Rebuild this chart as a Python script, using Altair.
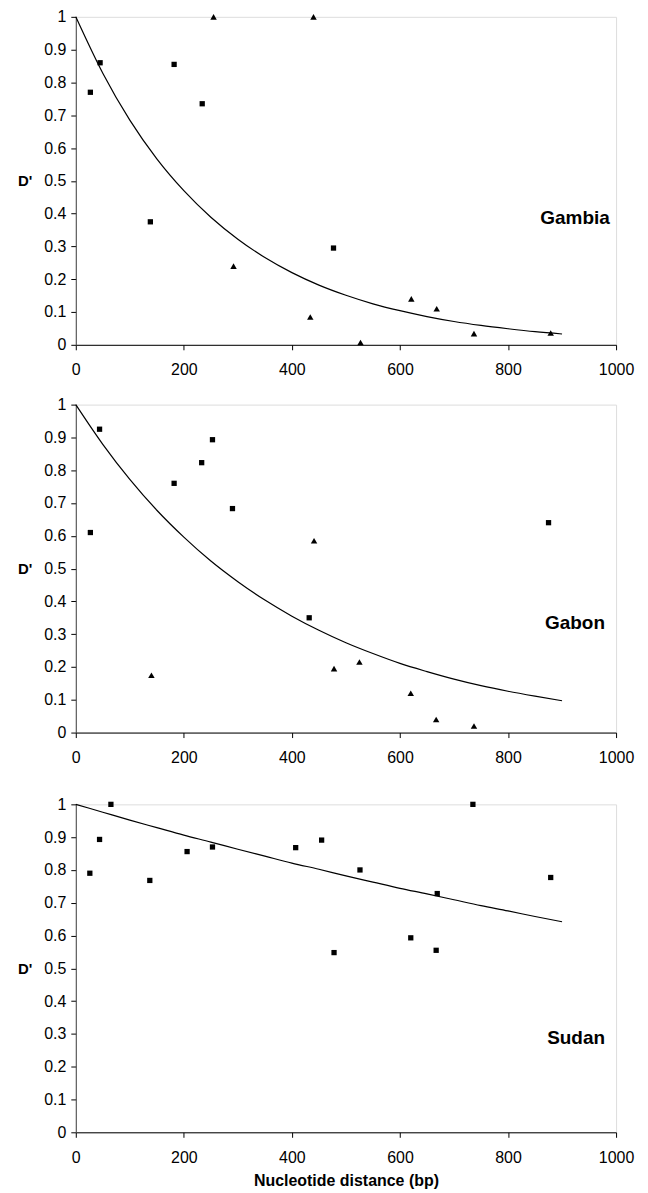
import altair as alt
import pandas as pd

FONT = "Liberation Sans"

# ---- data ----
gambia_sq_x = [27, 45, 138, 182, 234, 477]
gambia_sq_y = [0.77, 0.86, 0.375, 0.855, 0.735, 0.295]
gambia_tri_x = [255, 440, 292, 434, 527, 621, 668, 737, 879]
gambia_tri_y = [1.0, 1.0, 0.24, 0.085, 0.007, 0.14, 0.11, 0.034, 0.036]

gabon_sq_x = [27, 44, 182, 233, 253, 290, 432, 875]
gabon_sq_y = [0.61, 0.925, 0.76, 0.823, 0.893, 0.683, 0.35, 0.64]
gabon_tri_x = [140, 441, 478, 525, 620, 667, 737]
gabon_tri_y = [0.175, 0.585, 0.195, 0.215, 0.12, 0.04, 0.02]

sudan_sq_x = [26, 44, 65, 137, 206, 253, 407, 455, 478, 526, 620, 669, 667, 735, 879]
sudan_sq_y = [0.79, 0.893, 1.0, 0.768, 0.856, 0.87, 0.868, 0.891, 0.548, 0.8, 0.593, 0.728, 0.555, 1.0, 0.777]
sudan_tri_x = []
sudan_tri_y = []

curve_x = [0, 50, 100, 150, 200, 250, 300, 350, 400, 450, 500, 550, 600, 650, 700, 750, 800, 850, 900]
gambia_curve = [1.0, 0.828, 0.685, 0.567, 0.470, 0.389, 0.322, 0.266, 0.220, 0.182, 0.151, 0.125, 0.104, 0.086, 0.071, 0.059, 0.049, 0.040, 0.033]
gabon_curve = [1.0, 0.879, 0.772, 0.678, 0.596, 0.523, 0.460, 0.404, 0.355, 0.312, 0.274, 0.241, 0.211, 0.186, 0.163, 0.143, 0.126, 0.111, 0.097]
sudan_curve = [1.0, 0.976, 0.952, 0.929, 0.906, 0.885, 0.863, 0.842, 0.821, 0.802, 0.782, 0.763, 0.744, 0.727, 0.709, 0.691, 0.675, 0.658, 0.642]

x_ticks = [0, 200, 400, 600, 800, 1000]
y_ticks = [0, 0.1, 0.2, 0.3, 0.4, 0.5, 0.6, 0.7, 0.8, 0.9, 1.0]

names = ["Gambia", "Gabon", "Sudan"]
name_x = [924, 924, 926]
name_y = [0.387, 0.335, 0.287]

W, H = 542, 329


def panel(i, sq_x, sq_y, tri_x, tri_y, curve_y, show_title):
    pts = pd.DataFrame({
        "x": sq_x + tri_x,
        "y": sq_y + tri_y,
        "m": ["square"] * len(sq_x) + ["triangle-up"] * len(tri_x),
    })
    cur = pd.DataFrame({"x": curve_x, "y": curve_y})
    lab = pd.DataFrame({"x": [name_x[i]], "y": [name_y[i]], "t": [names[i]]})

    xs = alt.Scale(domain=[0, 1000], nice=False)
    ys = alt.Scale(domain=[0, 1], nice=False)
    xkw = dict(values=x_ticks, format="d", tickSize=5, labelPadding=12,
               labelFontSize=16, labelFont=FONT, labelColor="black",
               labelFlush=False, labelOverlap=False,
               domainColor="black", tickColor="black", grid=False)
    if show_title:
        xkw.update(title="Nucleotide distance (bp)", titleFont=FONT, titleFontSize=16,
                   titleFontWeight="bold", titlePadding=7, titleColor="black")
    else:
        xkw.update(title="")
    xaxis = alt.Axis(**xkw)
    yaxis = alt.Axis(values=y_ticks, format=".1~f", tickSize=5, labelPadding=5,
                     labelFontSize=16, labelFont=FONT, labelColor="black",
                     labelFlush=False, labelOverlap=False,
                     domainColor="#444", tickColor="black", grid=False,
                     title="D'", titleAngle=0, titleFont=FONT, titleFontSize=15,
                     titleFontWeight="bold", titleColor="black",
                     titleX=-44, titleY=H / 2, titleAlign="right", titleBaseline="middle")

    X = alt.X("x:Q", scale=xs, axis=xaxis)
    Y = alt.Y("y:Q", scale=ys, axis=yaxis)

    line = alt.Chart(cur).mark_line(color="black", strokeWidth=1.2, interpolate="monotone").encode(
        x=X, y=Y,
    )
    points = alt.Chart(pts).mark_point(filled=True, color="black", opacity=1).encode(
        x=X, y=Y,
        shape=alt.Shape("m:N", scale=None, legend=None),
        size=alt.Size("m:N", scale=alt.Scale(domain=["square", "triangle-up"], range=[28, 42]), legend=None),
    )
    text = alt.Chart(lab).mark_text(font=FONT, fontSize=19, fontWeight="bold",
                                    color="black", align="center", baseline="middle").encode(
        x=X, y=Y,
        text="t:N",
    )
    return alt.layer(line, points, text).properties(width=W, height=H)


p1 = panel(0, gambia_sq_x, gambia_sq_y, gambia_tri_x, gambia_tri_y, gambia_curve, False)
p2 = panel(1, gabon_sq_x, gabon_sq_y, gabon_tri_x, gabon_tri_y, gabon_curve, False)
p3 = panel(2, sudan_sq_x, sudan_sq_y, sudan_tri_x, sudan_tri_y, sudan_curve, True)

top = alt.vconcat(p1, p2, spacing=17)
chart = alt.vconcat(top, p3, spacing=29).properties(
    padding={"left": 9, "top": -2, "right": 5, "bottom": 0}
).configure_view(stroke=None).configure(background="white")

chart.save("out.html", embed_options={"renderer": "svg", "actions": False})
